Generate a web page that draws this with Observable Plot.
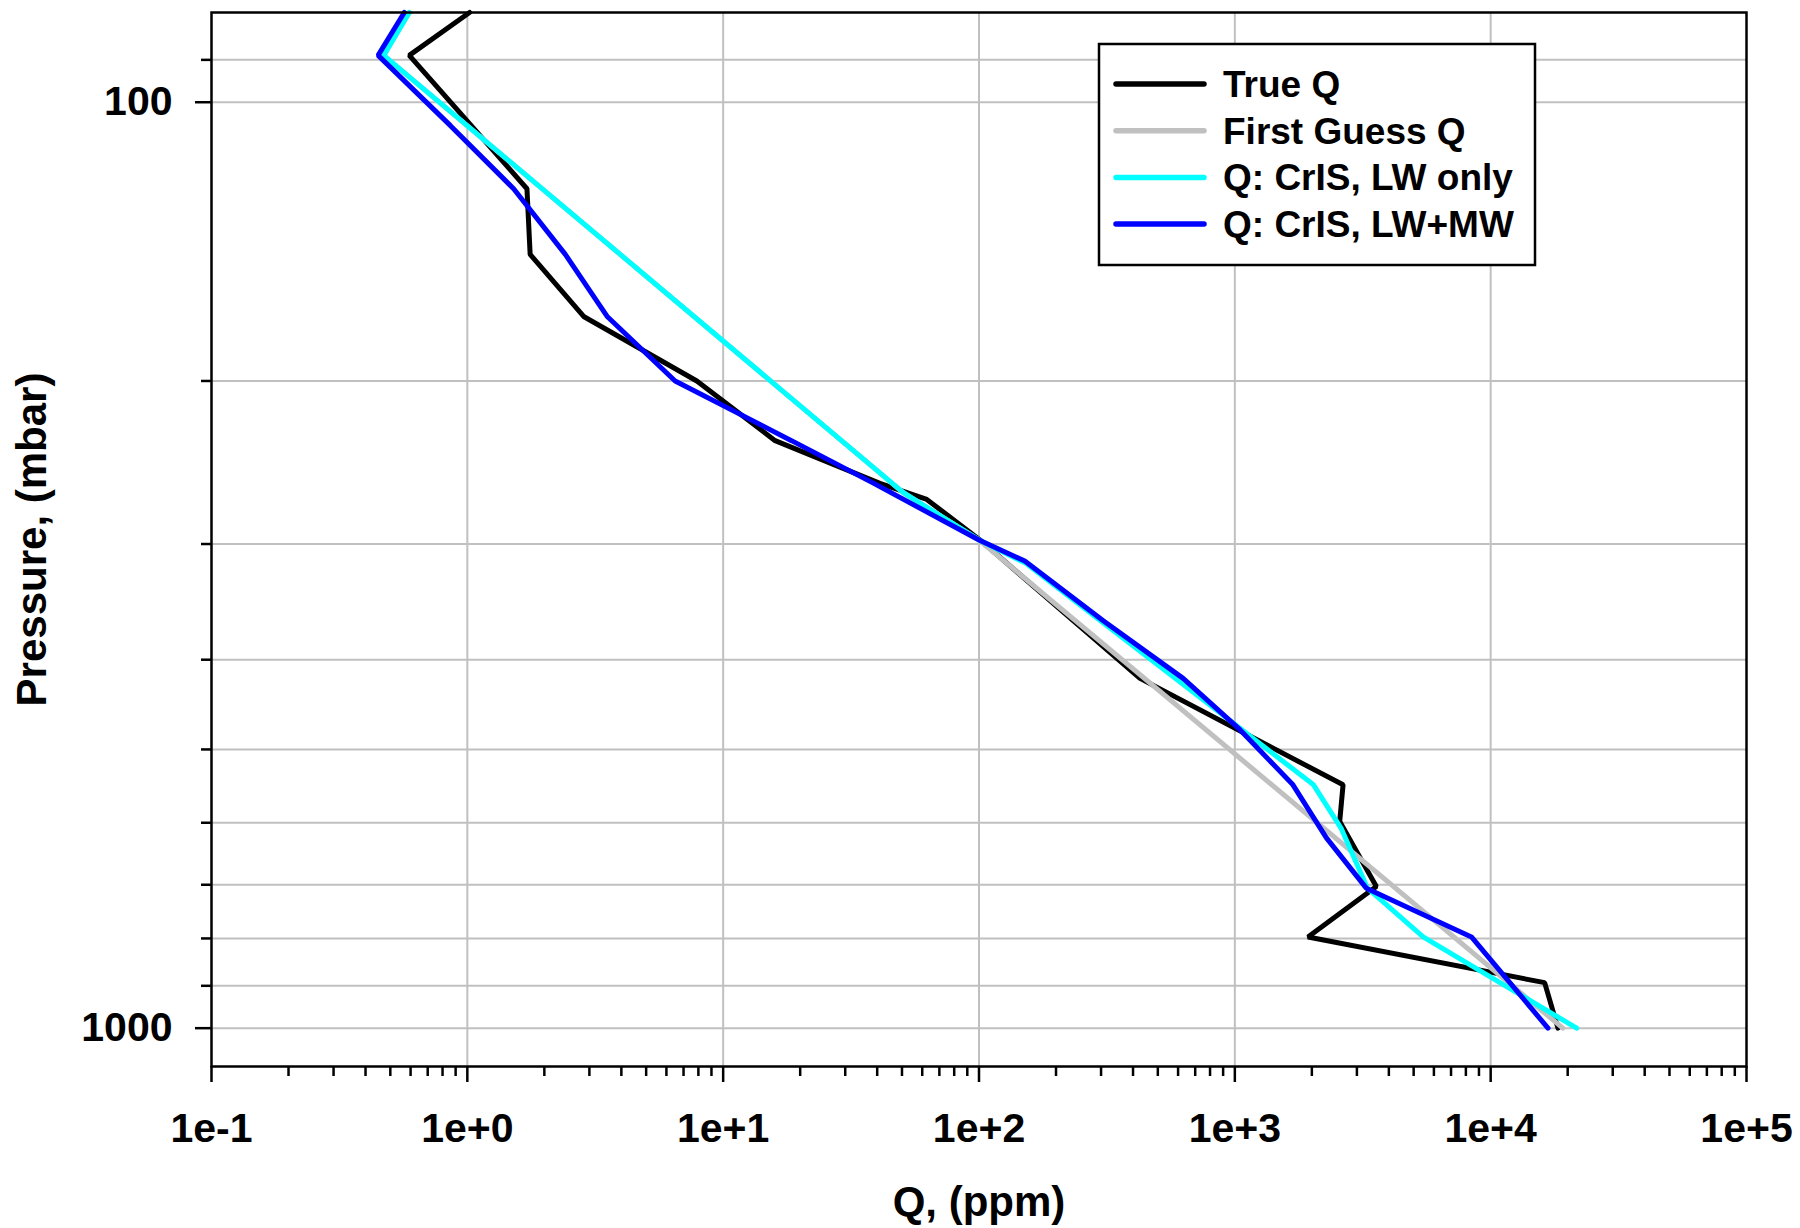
<!DOCTYPE html>
<html>
<head>
<meta charset="utf-8">
<script src="https://cdn.jsdelivr.net/npm/d3@7"></script>
<script src="https://cdn.jsdelivr.net/npm/@observablehq/plot@0.6"></script>
<style>
  html, body { margin: 0; padding: 0; background: #ffffff; }
  #chart svg { display: block; }
</style>
</head>
<body>
<div id="chart"></div>
<script>
// ---------- data ----------
const seriesNames  = ["True Q", "First Guess Q", "Q: CrIS, LW only", "Q: CrIS, LW+MW"];
const seriesColors = ["#000000", "#c0c0c0", "#00ffff", "#0000ff"];

// True Q
const trueP = [80, 89, 124, 146, 170.5, 200, 232, 258, 268.5, 297, 419, 546, 598, 703, 797, 893, 1000];
const trueQ = [1.02, 0.593, 1.71, 1.76, 2.86, 7.89, 15.96, 41.0, 62.5, 100.9, 426, 2649, 2570, 3573, 1932, 16254, 18322];

// First Guess Q
const guessP = [80, 89, 264, 297, 1000];
const guessQ = [0.593, 0.471, 50.6, 100, 19150];

// Q: CrIS, LW only
const lwP = [80, 89, 264, 297, 315, 546, 608, 706, 797, 1000];
const lwQ = [0.593, 0.471, 50.6, 100, 153, 2030, 2600, 3300, 5445, 21680];

// Q: CrIS, LW+MW
const mwP = [80, 89, 106, 124, 146, 170.5, 200, 232, 258, 297, 313, 363, 419, 476, 546, 623, 706, 797, 1000];
const mwQ = [0.567, 0.448, 0.859, 1.517, 2.415, 3.53, 6.49, 18.5, 38.8, 100, 151, 306, 628, 1047, 1687, 2280, 3265, 8410, 16750];

// ticks
const xTicks = [0.1, 1, 10, 100, 1000, 10000, 100000];
const yLabelTicks = [100, 1000];
const yMinorTicks = [90, 200, 300, 400, 500, 600, 700, 800, 900];
const yGridTicks = [90, 100, 200, 300, 400, 500, 600, 700, 800, 900, 1000];

const xTitle = "Q, (ppm)";
const yTitle = "Pressure, (mbar)";

// ---------- build table ----------
const series = [
  {name: seriesNames[0], p: trueP,  q: trueQ},
  {name: seriesNames[1], p: guessP, q: guessQ},
  {name: seriesNames[2], p: lwP,    q: lwQ},
  {name: seriesNames[3], p: mwP,    q: mwQ}
];
const rows = [];
series.forEach(s => s.p.forEach((p, i) => rows.push({series: s.name, p, q: s.q[i]})));

const xMinor = [];
xTicks.slice(0, -1).forEach(d => { for (let k = 2; k <= 9; k++) xMinor.push(d * k); });

const FONT = "'Liberation Sans', Arial, Helvetica, sans-serif";

const chart = Plot.plot({
  width: 1800,
  height: 1228,
  marginLeft: 211,
  marginRight: 54,
  marginTop: 12,
  marginBottom: 162,
  style: {fontFamily: FONT, fontWeight: "bold", background: "#ffffff", color: "#000"},
  x: {type: "log", domain: [0.1, 1e5], label: null},
  y: {type: "log", domain: [80, 1100], reverse: true, label: null},
  color: {domain: seriesNames, range: seriesColors},
  marks: [
    Plot.gridX(xTicks.slice(1, -1), {stroke: "#c0c0c0", strokeOpacity: 1, strokeWidth: 2}),
    Plot.gridY(yGridTicks, {stroke: "#c0c0c0", strokeOpacity: 1, strokeWidth: 2}),
    Plot.line(rows, {
      x: "q", y: "p", z: "series", stroke: "series",
      strokeWidth: 5, strokeLinejoin: "miter", strokeLinecap: "round"
    }),
    Plot.frame({stroke: "#000", strokeWidth: 2.5}),
    Plot.axisX(xTicks, {
      tickSize: 16, tickPadding: 30, strokeWidth: 2.5,
      tickFormat: d3.format(".0e"), fontSize: 41, fontWeight: "bold", label: null
    }),
    Plot.axisX(xMinor, {tickSize: 10, strokeWidth: 2.5, tickFormat: () => "", label: null}),
    Plot.axisY(yLabelTicks, {
      tickSize: 16, tickPadding: 23, strokeWidth: 2.5,
      tickFormat: d => String(d), fontSize: 41, fontWeight: "bold", label: null
    }),
    Plot.axisY(yMinorTicks, {tickSize: 10, strokeWidth: 2.5, tickFormat: () => "", label: null}),
    Plot.text([xTitle], {
      text: d => d, frameAnchor: "bottom", dy: 136, lineAnchor: "middle", textAnchor: "middle",
      fontSize: 42, fontWeight: "bold", fill: "#000"
    }),
    Plot.text([yTitle], {
      text: d => d, frameAnchor: "left", dx: -179, rotate: -90, lineAnchor: "middle", textAnchor: "middle",
      fontSize: 42, fontWeight: "bold", fill: "#000"
    })
  ]
});

document.getElementById("chart").appendChild(chart);

// ---------- legend (inside plot, top right) ----------
const svg = d3.select(chart);
const lg = svg.append("g").attr("font-family", FONT).attr("font-weight", "bold");
lg.append("rect")
  .attr("x", 1099).attr("y", 44).attr("width", 436).attr("height", 221)
  .attr("fill", "#ffffff").attr("stroke", "#000").attr("stroke-width", 2.5);
seriesNames.forEach((name, i) => {
  const cy = 84 + i * 46.7;
  lg.append("line")
    .attr("x1", 1116).attr("x2", 1204).attr("y1", cy).attr("y2", cy)
    .attr("stroke", seriesColors[i]).attr("stroke-width", 5.5).attr("stroke-linecap", "round");
  lg.append("text")
    .attr("x", 1223).attr("y", cy + 13)
    .attr("text-anchor", "start")
    .style("text-anchor", "start")
    .attr("font-size", 37).attr("fill", "#000")
    .text(name);
});
</script>
</body>
</html>
